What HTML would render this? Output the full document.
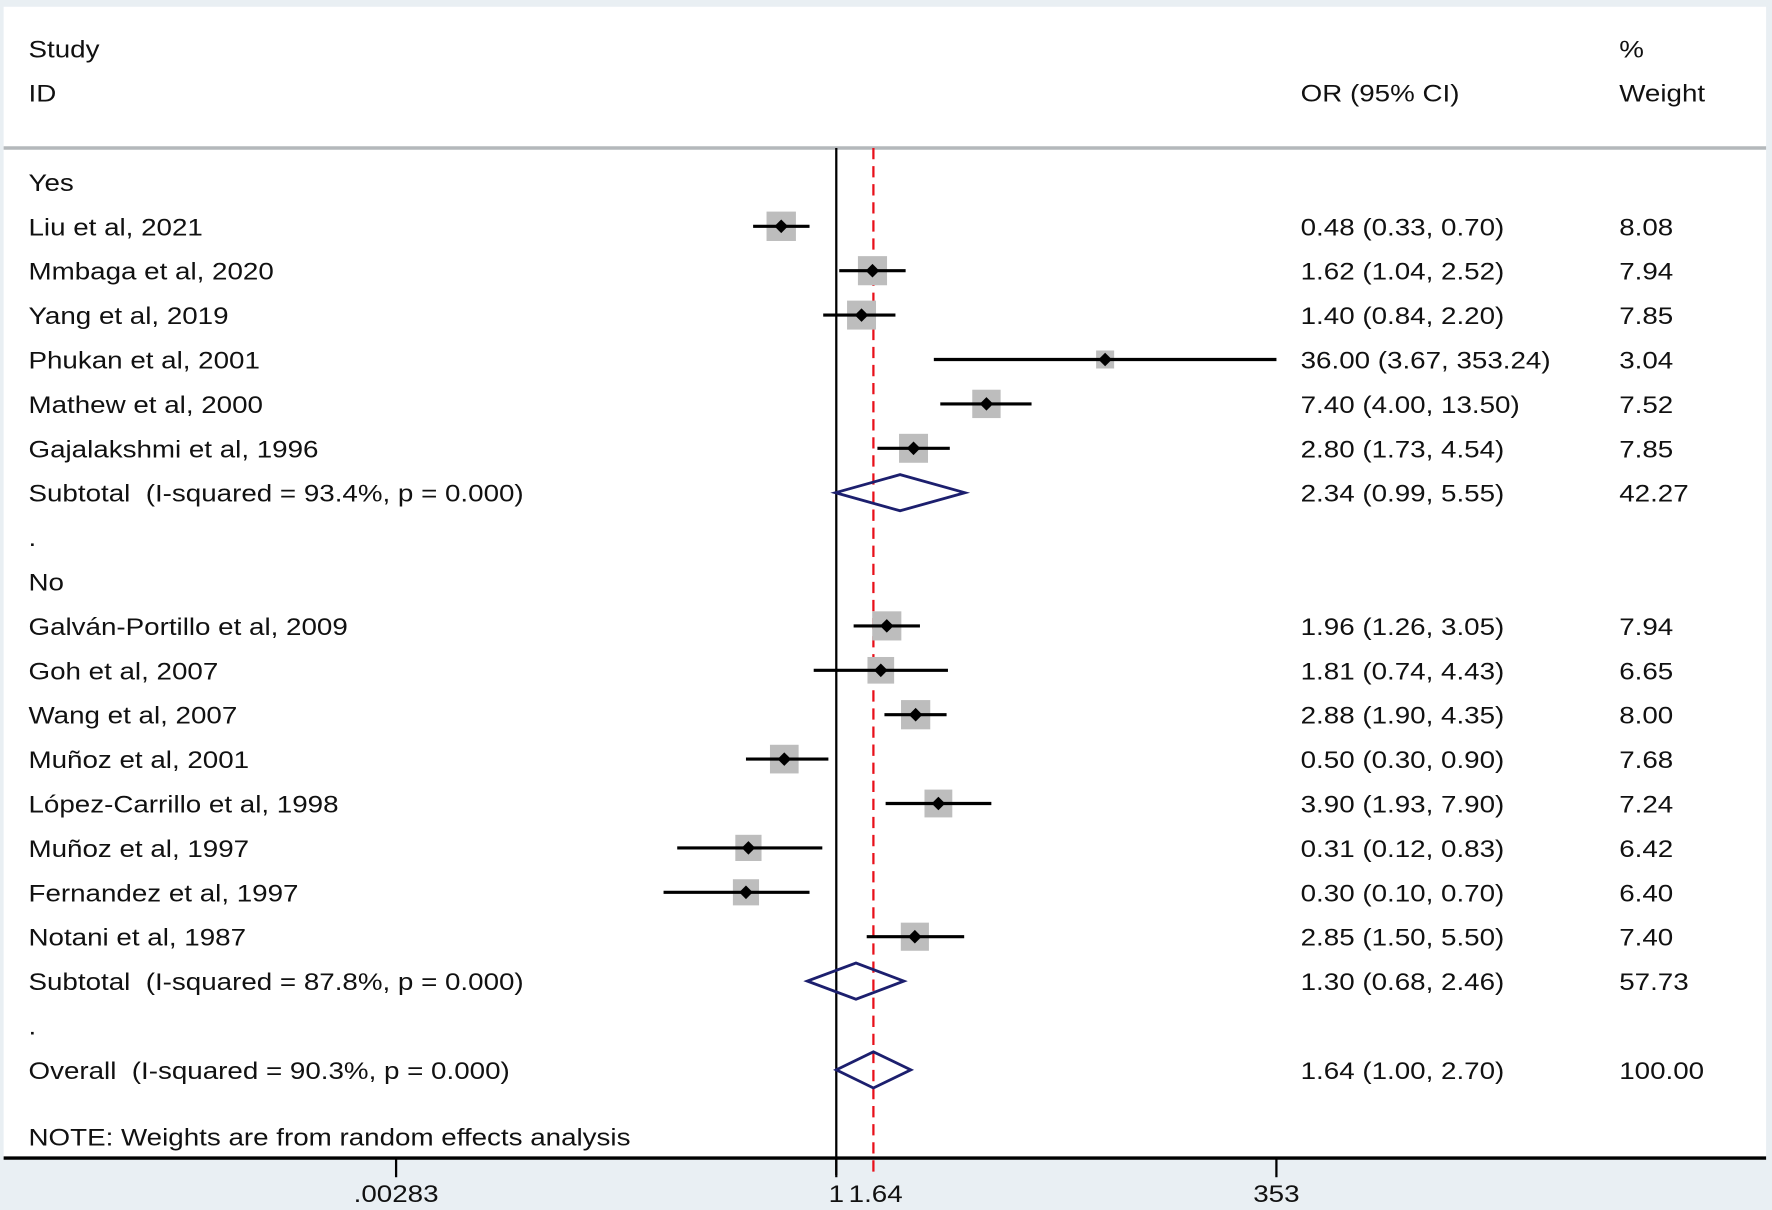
<!DOCTYPE html>
<html><head><meta charset="utf-8"><style>
html,body{margin:0;padding:0;background:#e9eff3;}
svg{display:block;font-family:"Liberation Sans",Arial,sans-serif;}
text{white-space:pre;}
</style></head><body>
<svg id="chart" width="1772" height="1210" viewBox="0 0 1568 1071" xmlns="http://www.w3.org/2000/svg" xml:space="preserve">
<rect x="0" y="0" width="1568" height="1071" fill="#e9eff3"/>
<rect x="3" y="6" width="1560" height="1019" fill="#ffffff"/>
<line x1="3" y1="131" x2="1563" y2="131" stroke="#b4b8bb" stroke-width="3"/>
<g font-size="21" fill="#111">
<text x="25" y="51" transform="translate(25,0) scale(1.17,1) translate(-25,0)">Study</text>
<text x="25" y="90" transform="translate(25,0) scale(1.17,1) translate(-25,0)">ID</text>
<text x="1151" y="90" transform="translate(1151,0) scale(1.17,1) translate(-1151,0)">OR (95% CI)</text>
<text x="1433" y="51" transform="translate(1433,0) scale(1.17,1) translate(-1433,0)">%</text>
<text x="1433" y="90" transform="translate(1433,0) scale(1.17,1) translate(-1433,0)">Weight</text>
</g>
<g id="marks"></g>
</svg>
<script>
const labels = ["Yes","Liu et al, 2021","Mmbaga et al, 2020","Yang et al, 2019","Phukan et al, 2001","Mathew et al, 2000","Gajalakshmi et al, 1996","Subtotal  (I-squared = 93.4%, p = 0.000)",".","No","Galván-Portillo et al, 2009","Goh et al, 2007","Wang et al, 2007","Muñoz et al, 2001","López-Carrillo et al, 1998","Muñoz et al, 1997","Fernandez et al, 1997","Notani et al, 1987","Subtotal  (I-squared = 87.8%, p = 0.000)",".","Overall  (I-squared = 90.3%, p = 0.000)"];
const kinds = ["h","s","s","s","s","s","s","d","b","h","s","s","s","s","s","s","s","s","d","b","d"];
const orVals = [null,0.48,1.62,1.40,36.00,7.40,2.80,2.34,null,null,1.96,1.81,2.88,0.50,3.90,0.31,0.30,2.85,1.30,null,1.64];
const lowVals = [null,0.33,1.04,0.84,3.67,4.00,1.73,0.99,null,null,1.26,0.74,1.90,0.30,1.93,0.12,0.10,1.50,0.68,null,1.00];
const highVals = [null,0.70,2.52,2.20,353.24,13.50,4.54,5.55,null,null,3.05,4.43,4.35,0.90,7.90,0.83,0.70,5.50,2.46,null,2.70];
const weights = [null,8.08,7.94,7.85,3.04,7.52,7.85,42.27,null,null,7.94,6.65,8.00,7.68,7.24,6.42,6.40,7.40,57.73,null,100.00];
const tickVals = [0.00283,1,353];
const tickLabels = [".00283","1","353"];
const overallOR = 1.64;

const NS="http://www.w3.org/2000/svg";
const g=document.getElementById('marks');
function xScale(v){return 740+Math.log10(v)*152.9;}
function yRow(i){return 161+i*39.3;}
function mk(tag,attrs,parent){const e=document.createElementNS(NS,tag);for(const k in attrs)e.setAttribute(k,attrs[k]);(parent||g).appendChild(e);return e;}
function fmt(v){return v.toFixed(2);}
function stretch(x){return `translate(${x},0) scale(1.17,1) translate(${-x},0)`;}

const nl=mk('line',{x1:740,y1:131,x2:740,y2:1040,stroke:'#000','stroke-width':2});


const rl=mk('line',{x1:xScale(overallOR),y1:131,x2:xScale(overallOR),y2:1043,stroke:'#e8101a','stroke-width':2,'stroke-dasharray':'10,6'});



labels.forEach((lab,i)=>{
  const y=yRow(i);
  const t=mk('text',{x:25,y:y+8,'font-size':21,fill:'#111',transform:stretch(25)});
  t.textContent=lab;
  
  
  if(orVals[i]!==null){
    const o=mk('text',{x:1151,y:y+8,'font-size':21,fill:'#111',transform:stretch(1151)});
    o.textContent=fmt(orVals[i])+" ("+fmt(lowVals[i])+", "+fmt(highVals[i])+")";
    
    
    const w=mk('text',{x:1433,y:y+8,'font-size':21,fill:'#111',transform:stretch(1433)});
    w.textContent=fmt(weights[i]);
    
    
  }
  if(kinds[i]==='s'){
    const s=9.15*Math.sqrt(weights[i]);
    const cx=xScale(orVals[i]);
    const b=mk('rect',{x:cx-s/2,y:y-s/2,width:s,height:s,fill:'#bdbdbd'});
    
    
    const l=mk('line',{x1:xScale(lowVals[i]),y1:y,x2:xScale(highVals[i]),y2:y,stroke:'#000','stroke-width':2.8});
    
    
    const p=mk('polygon',{points:`${cx-6},${y} ${cx},${y-6} ${cx+6},${y} ${cx},${y+6}`,fill:'#000'});
    
    
  } else if(kinds[i]==='d'){
    const a=xScale(lowVals[i]),c=xScale(orVals[i]),b2=xScale(highVals[i]);
    const d=mk('polygon',{points:`${a},${y} ${c},${y-16} ${b2},${y} ${c},${y+16}`,fill:'none',stroke:'#1c1f6e','stroke-width':2.5});
    
    
  }
});
const note=mk('text',{x:25,y:1014,'font-size':21,fill:'#111',transform:stretch(25)});
note.textContent="NOTE: Weights are from random effects analysis";



const ax=mk('line',{x1:3,y1:1025,x2:1563,y2:1025,stroke:'#000','stroke-width':3});


tickVals.forEach((v,k)=>{
  const x=xScale(v);
  const tk=mk('line',{x1:x,y1:1025,x2:x,y2:1042,stroke:'#000','stroke-width':2});
  
  
  const tl=mk('text',{x:x,y:1064,'font-size':21,fill:'#111','text-anchor':'middle',transform:stretch(x)});
  tl.textContent=tickLabels[k];
  
  
});
const ox=xScale(overallOR)+2;
const ol=mk('text',{x:ox,y:1064,'font-size':21,fill:'#111','text-anchor':'middle',transform:stretch(ox)});
ol.textContent=fmt(overallOR);


</script>
</body></html>
